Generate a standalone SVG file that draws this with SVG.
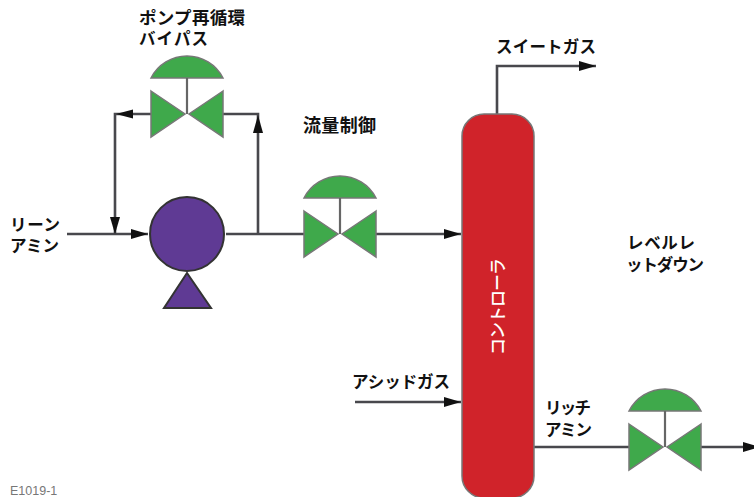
<svg xmlns="http://www.w3.org/2000/svg" width="754" height="497" viewBox="0 0 754 497">
<style>
text{font-family:"Noto Sans CJK JP","Liberation Sans",sans-serif;font-size:16.500px;font-weight:700;fill:#111}
.l{fill:none;stroke:#48484d;stroke-width:2.6}
.v{fill:#3fa94b;stroke:#777;stroke-width:1.5}
.s{fill:none;stroke:#666;stroke-width:2.2}
.p{fill:#5f3a94;stroke:#333;stroke-width:2}
.h{fill:#111}
</style>
<defs>
<marker id="a" markerUnits="userSpaceOnUse" markerWidth="18" markerHeight="12" refX="17" refY="6" orient="auto"><path d="M0 1L17 6L0 11z" fill="#111"/></marker>
<g id="valve">
<path class="v" d="M-36 -36A40.4 40.4 0 0 1 36 -36z"/>
<path class="s" d="M0 -36V0"/>
<path class="v" d="M-36 -23L-2 0L-36 23z"/>
<path class="v" d="M36 -23L2 0L36 23z"/>
</g>
</defs>
<g id="connectors">
<path class="l" d="M67 234H148" marker-end="url(#a)"/>
<path class="l" d="M226 234H304"/>
<path class="l" d="M376 234H461" marker-end="url(#a)"/>
<path class="l" d="M258 234V114H222"/>
<path class="h" d="M258 115L253 133H263z"/>
<path class="l" d="M151 114H115V234"/>
<path class="h" d="M116 114L133 109.500V118.500z"/>
<path class="h" d="M115 234L110 217H120z"/>
<path class="l" d="M497 114V66H596" marker-end="url(#a)"/>
<path class="l" d="M355 402H461" marker-end="url(#a)"/>
<path class="l" d="M534 447H629"/>
<path class="l" d="M701 447H760" marker-end="url(#a)"/>
</g>
<g id="bypass-valve"><use href="#valve" transform="translate(187,114)"/></g>
<g id="flow-valve"><use href="#valve" transform="translate(340,234)"/></g>
<g id="level-valve"><use href="#valve" transform="translate(665,447)"/></g>
<g id="pump">
<circle class="p" cx="187" cy="234" r="37"/>
<path class="p" d="M187 273L164 308H211z"/>
</g>
<g id="contactor">
<rect x="462" y="114" width="72" height="384" rx="22" fill="#d0232a" stroke="#777" stroke-width="1.5"/>
<text transform="translate(504,355) rotate(-90)" textLength="97" style="fill:#fff;font-size:17px;font-weight:500">コントローラ</text>
</g>
<g id="labels">
<text x="139" y="24" textLength="106" style="font-size:17.500px">ポンプ再循環</text>
<text x="139" y="45" textLength="69">バイパス</text>
<text x="303" y="132" textLength="73" style="font-size:18px">流量制御</text>
<text x="10" y="231" textLength="50">リーン</text>
<text x="10" y="252" textLength="49">アミン</text>
<text x="496" y="53" textLength="100">スイートガス</text>
<text x="627" y="249" textLength="68">レベルレ</text>
<text x="626" y="271" textLength="78">ットダウン</text>
<text x="352" y="388" textLength="98">アシッドガス</text>
<text x="545" y="414" textLength="46">リッチ</text>
<text x="545" y="436" textLength="47">アミン</text>
<text x="10" y="495" style="font-size:12.500px;font-weight:400;fill:#777;font-family:'Liberation Sans',sans-serif">E1019-1</text>
</g>
</svg>
